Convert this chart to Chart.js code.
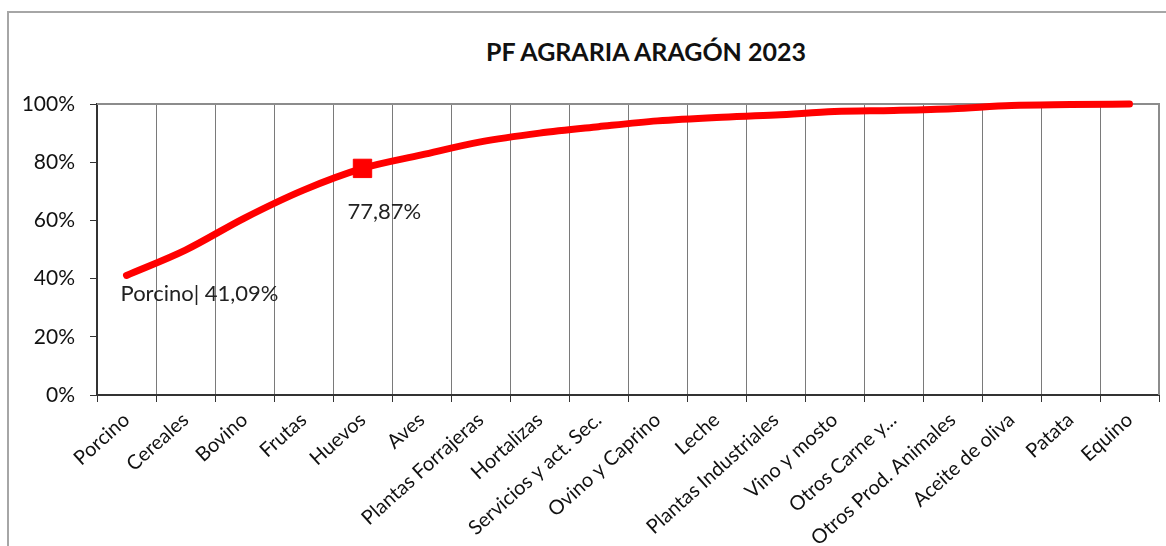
<!DOCTYPE html>
<html lang="es">
<head>
<meta charset="utf-8">
<title>PF Agraria Aragón 2023</title>
<script src="https://cdn.jsdelivr.net/npm/chart.js@4.4.1/dist/chart.umd.min.js"></script>
<style>
  html, body { margin: 0; padding: 0; background: #fff; overflow: hidden; }
  #wrap { position: relative; width: 1166px; height: 546px; }
  #frame {
    position: absolute; left: 7px; top: 11px; width: 1300px; height: 700px;
    border: 2px solid #a6a6a6; box-sizing: border-box;
  }
  #title {
    position: absolute; left: 646px; top: 51px; transform: translate(-50%, -50%);
    font: bold 25px Lato, "Open Sans", sans-serif; color: #111; white-space: nowrap;
  }
  canvas { position: absolute; left: 0; top: 0; }
</style>
</head>
<body>
<div id="wrap">
  <div id="frame"></div>
  <div id="title">PF AGRARIA ARAGÓN 2023</div>
  <canvas id="pareto" width="1166" height="546"></canvas>
</div>
<script>
// producción final agraria, % acumulado por subsector
const sectores = [
  "Porcino", "Cereales", "Bovino", "Frutas", "Huevos", "Aves",
  "Plantas Forrajeras", "Hortalizas", "Servicios y act. Sec.", "Ovino y Caprino",
  "Leche", "Plantas Industriales", "Vino y mosto", "Otros Carne y...",
  "Otros Prod. Animales", "Aceite de oliva", "Patata", "Equino"
];
const acumulado = [
  41.09, 49.8, 60.8, 70.4, 77.87, 82.5,
  87.0, 90.0, 92.2, 94.2,
  95.4, 96.2, 97.4, 97.8,
  98.4, 99.5, 99.8, 100
];
const yTicks = [0, 20, 40, 60, 80, 100];
const marcado = 4;          // punto con marcador cuadrado
const conNombre = [0];      // etiquetas "categoría| valor"
const soloValor = [4];      // etiquetas solo con el valor

const FONT = "Lato, 'Open Sans', sans-serif";
const RED = "#ff0000";

function pct(v) {
  return v.toFixed(2).replace(".", ",") + "%";
}

// marco gris arriba y a la derecha del área de trazado
const plotFrame = {
  id: "plotFrame",
  beforeDatasetsDraw(chart) {
    const { ctx, chartArea: a } = chart;
    ctx.save();
    ctx.strokeStyle = "#8c8c8c";
    ctx.lineWidth = 2;
    ctx.beginPath();
    ctx.moveTo(a.left, a.top);
    ctx.lineTo(a.right, a.top);
    ctx.lineTo(a.right, a.bottom);
    ctx.stroke();
    ctx.restore();
  }
};

// etiquetas de datos bajo los puntos
const dataLabels = {
  id: "dataLabels",
  afterDatasetsDraw(chart) {
    const { ctx } = chart;
    const meta = chart.getDatasetMeta(0);
    ctx.save();
    ctx.font = "22px " + FONT;
    ctx.fillStyle = "#222";
    ctx.textBaseline = "middle";
    ctx.textAlign = "left";
    conNombre.forEach(i => {
      const p = meta.data[i];
      ctx.fillText(sectores[i] + "| " + pct(acumulado[i]), p.x - 6, p.y + 18);
    });
    soloValor.forEach(i => {
      const p = meta.data[i];
      ctx.fillText(pct(acumulado[i]), p.x - 15, p.y + 44);
    });
    ctx.restore();
  }
};

const ctx = document.getElementById("pareto").getContext("2d");

new Chart(ctx, {
  type: "line",
  data: {
    labels: sectores,
    datasets: [{
      data: acumulado,
      borderColor: RED,
      backgroundColor: RED,
      borderWidth: 7,
      borderCapStyle: "round",
      cubicInterpolationMode: "monotone",
      pointStyle: "rect",
      pointRadius: c => c.dataIndex === marcado ? 13 : 0,
      pointHoverRadius: c => c.dataIndex === marcado ? 13 : 0,
      pointBorderWidth: 1,
      clip: false
    }]
  },
  options: {
    responsive: false,
    animation: false,
    events: [],
    layout: { padding: { left: 0, right: 7, top: 104, bottom: 0 } },
    plugins: {
      legend: { display: false },
      tooltip: { enabled: false },
      title: { display: false }
    },
    scales: {
      x: {
        offset: true,
        grid: {
          offset: true,
          color: "#7a7a7a",
          lineWidth: 1,
          tickColor: "#333",
          tickLength: 7
        },
        border: { color: "#333", width: 2 },
        ticks: {
          minRotation: 42,
          maxRotation: 42,
          autoSkip: false,
          padding: 6,
          color: "#111",
          font: { family: FONT, size: 20 }
        },
        afterFit(scale) { scale.height = 151; }
      },
      y: {
        min: 0,
        max: 100,
        afterBuildTicks(scale) {
          scale.ticks = yTicks.map(v => ({ value: v }));
        },
        grid: {
          drawOnChartArea: false,
          tickColor: "#333",
          tickLength: 7
        },
        border: { color: "#333", width: 2 },
        ticks: {
          padding: 15,
          color: "#111",
          font: { family: FONT, size: 21 },
          callback: v => v + "%"
        },
        afterFit(scale) { scale.width = 97; }
      }
    }
  },
  plugins: [plotFrame, dataLabels]
});
</script>
</body>
</html>
